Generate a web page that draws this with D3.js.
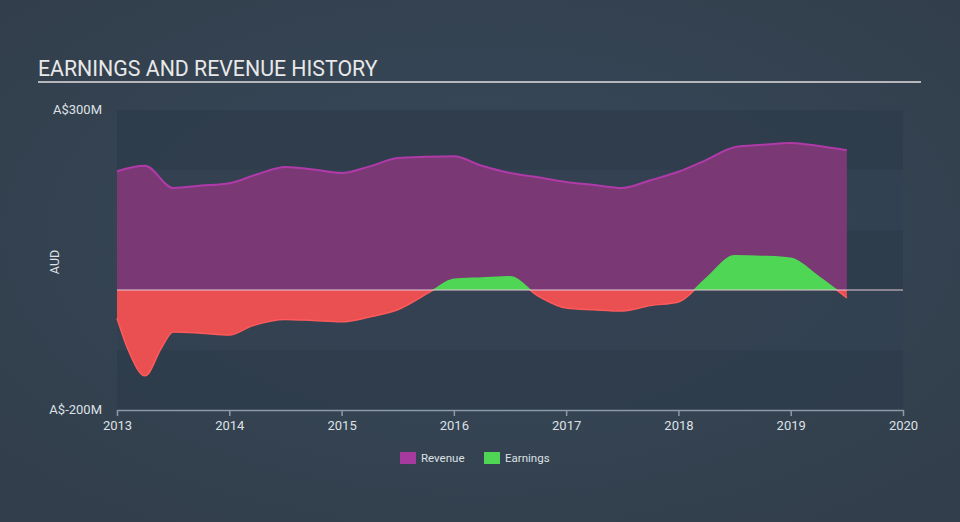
<!DOCTYPE html>
<html><head><meta charset="utf-8">
<script src="https://cdn.jsdelivr.net/npm/d3@7"></script>
<style>body{margin:0;background:#354452;}svg{display:block;font-family:Roboto,"Open Sans",sans-serif;}</style>
</head><body>
<svg id="c" width="960" height="522"></svg>
<script>
const revDates = [2013.0,2013.25,2013.5,2013.75,2014.0,2014.25,2014.5,2014.75,2015.0,2015.25,2015.5,2015.75,2016.0,2016.25,2016.5,2016.75,2017.0,2017.25,2017.5,2017.75,2018.0,2018.25,2018.5,2018.75,2019.0,2019.25,2019.5];
const revenue  = [198,207,170,174,178,193,205,201,195,206,220,222,223,207,195,188,180,175,170,183,197,217,238,242,245,240,233];
const earnDates = [2013.0,2013.1,2013.25,2013.4,2013.5,2013.75,2014.0,2014.2,2014.5,2014.75,2015.0,2015.25,2015.5,2015.8,2016.0,2016.25,2016.5,2016.75,2017.0,2017.25,2017.5,2017.75,2018.0,2018.25,2018.5,2018.75,2019.0,2019.25,2019.5];
const earnings  = [-47,-100,-143,-95,-70,-72,-75,-60,-49,-51,-53,-45,-33,-2,18,20,22,-10,-30,-33,-35,-26,-20,20,57,56,53,22,-13];
const yTicks = [300,-200];
const xTicks = [2013,2014,2015,2016,2017,2018,2019,2020];

const svg = d3.select("#c");
const defs = svg.append("defs");
const rg = defs.append("radialGradient").attr("id","bg").attr("cx","50%").attr("cy","45%").attr("r","65%");
rg.append("stop").attr("offset","0%").attr("stop-color","#384a5c");
rg.append("stop").attr("offset","100%").attr("stop-color","#323e4b");
svg.append("rect").attr("width",960).attr("height",522).attr("fill","url(#bg)");

const L=117,R=903,T=110,B=410;
const x = d3.scaleLinear().domain([2013,2020]).range([L,R]);
const y = d3.scaleLinear().domain([-200,300]).range([B,T]);

const bands = d3.range(-200,300,100);
svg.selectAll("rect.band").data(bands).enter().append("rect")
  .attr("x",L).attr("width",R-L)
  .attr("y",d=>y(d+100)).attr("height",d=>y(d)-y(d+100))
  .attr("fill",d=>((d/100)%2===0)?"#2e3c4b":"#324151").attr("fill-opacity",0.85);

svg.append("text").attr("x",38).attr("y",76).attr("fill","#e8e8e8").attr("font-size",21.3)
  .text("EARNINGS AND REVENUE HISTORY");
svg.append("line").attr("x1",38).attr("x2",921).attr("y1",82).attr("y2",82)
  .attr("stroke","#b4b8bc").attr("stroke-width",2);

const curve = d3.curveMonotoneX;
const rev = revDates.map((d,i)=>({d,v:revenue[i]}));
const earn = earnDates.map((d,i)=>({d,v:earnings[i]}));

svg.append("path").datum(rev)
  .attr("d",d3.area().curve(curve).x(p=>x(p.d)).y0(y(0)).y1(p=>y(p.v)))
  .attr("fill","#7a3875");
svg.append("path").datum(rev)
  .attr("d",d3.line().curve(curve).x(p=>x(p.d)).y(p=>y(p.v)))
  .attr("fill","none").attr("stroke","#b03aa8").attr("stroke-width",2);

defs.append("clipPath").attr("id","pos").append("rect").attr("x",0).attr("y",0).attr("width",960).attr("height",y(0));
defs.append("clipPath").attr("id","neg").append("rect").attr("x",0).attr("y",y(0)).attr("width",960).attr("height",522);
const earnArea = d3.area().curve(curve).x(p=>x(p.d)).y0(y(0)).y1(p=>y(p.v));
const earnLine = d3.line().curve(curve).x(p=>x(p.d)).y(p=>y(p.v));
svg.append("path").datum(earn).attr("d",earnArea).attr("fill","#4fd655").attr("clip-path","url(#pos)");
svg.append("path").datum(earn).attr("d",earnArea).attr("fill","#ea4f52").attr("clip-path","url(#neg)");
svg.append("path").datum(earn).attr("d",earnLine).attr("fill","none").attr("stroke","#4fd655").attr("stroke-width",1.5).attr("clip-path","url(#pos)");
svg.append("path").datum(earn).attr("d",earnLine).attr("fill","none").attr("stroke","#ff5a5a").attr("stroke-width",1.5).attr("clip-path","url(#neg)");

svg.append("line").attr("x1",L).attr("x2",R).attr("y1",y(0)).attr("y2",y(0))
  .attr("stroke","#e8c8d8").attr("stroke-width",1.2);

const xa = svg.append("g").attr("transform",`translate(0,${B})`)
  .call(d3.axisBottom(x).tickValues(xTicks).tickFormat(d3.format("d")).tickSize(6).tickSizeOuter(0));
xa.select(".domain").attr("stroke","#8d99a6").attr("stroke-width",1.5);
xa.selectAll(".tick line").attr("stroke","#8d99a6").attr("stroke-width",1.5);
xa.selectAll("text").attr("fill","#dde1e5").attr("font-size",13).attr("dy","0.85em")
  .attr("font-family","Roboto,sans-serif");

svg.selectAll("text.yl").data(yTicks).enter().append("text")
  .attr("x",102).attr("y",d=>y(d)+4).attr("text-anchor","end")
  .attr("fill","#dde1e5").attr("font-size",13).text(d=>"A$"+d+"M");
svg.append("text").attr("transform","translate(59,262) rotate(-90)").attr("text-anchor","middle")
  .attr("fill","#dde1e5").attr("font-size",12.5).text("AUD");

const leg = [{n:"Revenue",c:"#a73a9e",x:400},{n:"Earnings",c:"#4fd655",x:484}];
const lg = svg.selectAll("g.lg").data(leg).enter().append("g");
lg.append("rect").attr("x",d=>d.x).attr("y",452).attr("width",16).attr("height",12).attr("fill",d=>d.c);
lg.append("text").attr("x",d=>d.x+21).attr("y",462).attr("fill","#dde1e5").attr("font-size",11.5).text(d=>d.n);
</script>
</body></html>
